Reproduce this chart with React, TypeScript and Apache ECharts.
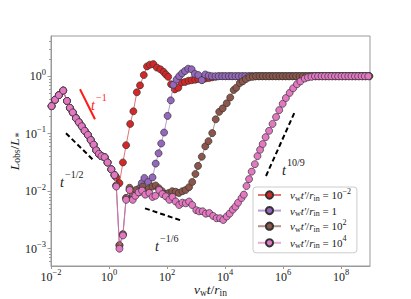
import React, { useEffect, useRef } from "react";
import * as echarts from "echarts";

// All pairs are [log10(v_w t / r_in), log10(L_obs / L_*)].
const earlyShared: number[][] = [
  [-1.98, -0.52], [-1.86, -0.41], [-1.73, -0.33], [-1.58, -0.25], [-1.45, -0.43],
  [-1.35, -0.55], [-1.25, -0.63], [-1.14, -0.73], [-1.04, -0.80], [-0.94, -0.87],
  [-0.84, -0.95], [-0.73, -1.02], [-0.63, -1.11], [-0.53, -1.19], [-0.44, -1.29],
  [-0.35, -1.35], [-0.26, -1.39], [-0.15, -1.41], [-0.05, -1.50], [0.08, -1.62],
  [0.19, -1.72],
];
const dipPink: number[][] = [[0.25, -1.92], [0.36, -3.0], [0.48, -2.77]];
const dipDark: number[][] = [[0.25, -1.9], [0.36, -2.94], [0.48, -2.75]];

const redTail: number[][] = [
  [0.25, -1.76], [0.36, -1.86], [0.48, -1.5], [0.59, -1.2], [0.73, -0.83], [0.84, -0.61],
  [0.96, -0.28], [1.07, -0.16], [1.2, 0.02], [1.31, 0.17], [1.41, 0.2], [1.53, 0.21],
  [1.65, 0.15], [1.77, 0.12], [1.88, 0.075], [1.96, 0.03], [2.04, -0.01], [2.14, -0.14],
  [2.27, -0.23], [2.39, -0.2], [2.5, -0.11], [2.62, -0.1], [2.74, -0.08], [2.85, -0.07],
  [2.97, -0.06], [3.08, -0.05], [3.22, -0.06], [3.33, -0.04], [3.45, -0.03], [3.56, -0.02],
  [3.68, -0.01], [3.79, 0], [3.91, 0], [4.02, 0], [4.14, 0], [4.25, 0], [4.37, 0], [4.48, 0],
  [4.6, 0], [4.71, 0], [4.83, 0], [4.94, 0], [5.06, 0], [5.17, 0], [5.29, 0], [5.4, 0],
  [5.52, 0], [5.63, 0], [5.75, 0], [5.86, 0], [5.98, 0], [6.09, 0], [6.21, 0], [6.32, 0],
  [6.44, 0], [6.55, 0], [6.67, 0], [6.78, 0], [6.9, 0], [7.01, 0], [7.13, 0], [7.24, 0],
  [7.36, 0], [7.47, 0], [7.59, 0], [7.7, 0], [7.82, 0], [7.93, 0], [8.05, 0], [8.16, 0],
  [8.28, 0], [8.39, 0], [8.51, 0], [8.62, 0], [8.74, 0], [8.85, 0], [8.97, 0],
];

const purpleTail: number[][] = [
  [0.59, -2.12], [0.71, -1.97], [0.82, -2.1], [0.93, -2.0], [1.04, -1.95], [1.13, -1.86],
  [1.22, -1.77], [1.35, -1.84], [1.5, -1.76], [1.61, -1.52], [1.71, -1.34], [1.8, -1.17],
  [1.9, -0.98], [2.02, -0.69], [2.13, -0.42], [2.22, -0.15], [2.33, -0.06], [2.42, 0.0],
  [2.52, 0.05], [2.62, 0.09], [2.73, 0.13], [2.85, 0.12], [2.96, 0.04], [3.08, 0.02],
  [3.2, -0.07], [3.32, 0.03], [3.44, 0.01], [3.55, 0], [3.67, 0], [3.78, 0], [3.9, 0],
  [4.01, 0], [4.13, 0], [4.24, 0], [4.36, 0], [4.47, 0], [4.59, 0], [4.7, 0], [4.82, 0],
  [4.93, 0], [5.05, 0], [5.16, 0], [5.28, 0], [5.39, 0], [5.51, 0], [5.62, 0], [5.74, 0],
  [5.85, 0], [5.97, 0], [6.08, 0], [6.2, 0], [6.31, 0], [6.43, 0], [6.54, 0], [6.66, 0],
  [6.77, 0], [6.89, 0], [7.0, 0], [7.12, 0], [7.23, 0], [7.35, 0], [7.46, 0], [7.58, 0],
  [7.69, 0], [7.81, 0], [7.92, 0], [8.04, 0], [8.15, 0], [8.27, 0], [8.38, 0], [8.5, 0],
  [8.61, 0], [8.73, 0], [8.84, 0], [8.96, 0],
];

const brownTail: number[][] = [
  [0.59, -2.12], [0.71, -1.94], [0.82, -2.06], [0.93, -1.98], [1.04, -2.02], [1.16, -1.92],
  [1.27, -2.0], [1.38, -1.95], [1.5, -1.92], [1.61, -1.9], [1.72, -1.95], [1.83, -2.0],
  [1.95, -2.05], [2.06, -2.03], [2.18, -2.0], [2.3, -2.01], [2.41, -2.03], [2.53, -2.0],
  [2.64, -1.98], [2.76, -1.93], [2.87, -1.84], [2.98, -1.7], [3.07, -1.56], [3.2, -1.4],
  [3.32, -1.22], [3.43, -1.13], [3.56, -0.99], [3.68, -0.75], [3.8, -0.62], [3.92, -0.56],
  [4.06, -0.47], [4.18, -0.37], [4.3, -0.24], [4.39, -0.2], [4.51, -0.12], [4.61, -0.09],
  [4.72, -0.05], [4.84, -0.02], [4.96, -0.01], [5.07, 0], [5.19, 0], [5.3, 0], [5.42, 0],
  [5.53, 0], [5.65, 0], [5.76, 0], [5.88, 0], [5.99, 0], [6.11, 0], [6.22, 0], [6.34, 0],
  [6.45, 0], [6.57, 0], [6.68, 0], [6.8, 0], [6.91, 0], [7.03, 0], [7.14, 0], [7.26, 0],
  [7.37, 0], [7.49, 0], [7.6, 0], [7.72, 0], [7.83, 0], [7.95, 0], [8.06, 0], [8.18, 0],
  [8.29, 0], [8.41, 0], [8.52, 0], [8.64, 0], [8.75, 0], [8.87, 0], [8.98, 0],
];

const pinkTail: number[][] = [
  [0.59, -2.15], [0.71, -1.98], [0.82, -2.15], [0.91, -2.08], [1.02, -2.02], [1.14, -1.99],
  [1.25, -2.06], [1.39, -2.03], [1.5, -2.1], [1.6, -2.08], [1.73, -1.98], [1.84, -2.05],
  [1.96, -2.09], [2.08, -2.15], [2.19, -2.1], [2.3, -2.18], [2.42, -2.24], [2.53, -2.2],
  [2.65, -2.21], [2.76, -2.18], [2.87, -2.24], [3.01, -2.33], [3.11, -2.35], [3.23, -2.35],
  [3.34, -2.39], [3.46, -2.38], [3.59, -2.43], [3.71, -2.47], [3.83, -2.47], [3.94, -2.5],
  [4.06, -2.44], [4.16, -2.39], [4.27, -2.32], [4.36, -2.27], [4.45, -2.2], [4.57, -2.12],
  [4.65, -2.06], [4.74, -1.91], [4.83, -1.79], [4.92, -1.66], [5.03, -1.53], [5.12, -1.39],
  [5.21, -1.28], [5.3, -1.18], [5.4, -1.06], [5.52, -0.95], [5.64, -0.83], [5.76, -0.71],
  [5.87, -0.59], [5.99, -0.48], [6.1, -0.38], [6.23, -0.29], [6.35, -0.21], [6.48, -0.14],
  [6.6, -0.09], [6.75, -0.04], [6.86, -0.02], [6.98, -0.01], [7.1, 0], [7.21, 0], [7.33, 0],
  [7.44, 0], [7.56, 0], [7.67, 0], [7.79, 0], [7.9, 0], [8.02, 0], [8.13, 0], [8.25, 0],
  [8.36, 0], [8.48, 0], [8.59, 0], [8.71, 0], [8.82, 0], [8.94, 0],
];

const seriesNames = ["t' = 1e-2", "t' = 1", "t' = 1e2", "t' = 1e4"];
const legendExponents = ["−2", "", "2", "4"];

const xTicks = [1e-2, 1, 1e2, 1e4, 1e6, 1e8];
const yTicks = [1e-3, 1e-2, 1e-1, 1];
const yMinorTicks = [
  6e-4, 7e-4, 8e-4, 9e-4, 2e-3, 3e-3, 4e-3, 5e-3, 6e-3, 7e-3, 8e-3, 9e-3,
  2e-2, 3e-2, 4e-2, 5e-2, 6e-2, 7e-2, 8e-2, 9e-2, 0.2, 0.3, 0.4, 0.5, 0.6, 0.7, 0.8, 0.9, 2, 3, 4,
];

// guide lines: [log10 t, log10 L] endpoints
const guideTm1: number[][] = [[-1.0, -0.228], [-0.483, -0.75]];
const guideTm12: number[][] = [[-1.483, -0.993], [-0.541, -1.458]];
const guideTm16: number[][] = [[1.241, -2.298], [2.507, -2.513]];
const guideT109: number[][] = [[5.414, -1.736], [6.397, -0.631]];

const FONT = "'Liberation Serif', 'DejaVu Serif', serif";
const INK = "#1a1a1a";
const SPINE = "#9a9a9a";
const COLORS = ["#d62728", "#9467bd", "#8c564b", "#e377c2"];

const toVals = (arr: number[][]) => arr.map(([a, b]) => [Math.pow(10, a), Math.pow(10, b)]);

const tickRich = {
  b: { fontFamily: FONT, fontSize: 12, color: INK, lineHeight: 13 },
  s: { fontFamily: FONT, fontSize: 8.5, color: INK, lineHeight: 13, padding: [0, 0, 9, 0] },
};
const expLabel = (v: number) => {
  const e = Math.round(Math.log10(v));
  return `{b|10}{s|${e < 0 ? "−" + -e : e}}`;
};

const nameRich = {
  i: { fontFamily: FONT, fontStyle: "italic", fontSize: 13.5, color: INK, lineHeight: 16 },
  n: { fontFamily: FONT, fontSize: 13.5, color: INK, lineHeight: 16 },
  sub: { fontFamily: FONT, fontSize: 9.5, color: INK, lineHeight: 16, padding: [6, 0, 0, 0] },
};

const legendRich = {
  i: { fontFamily: FONT, fontStyle: "italic", fontSize: 11, color: INK, lineHeight: 17 },
  n: { fontFamily: FONT, fontSize: 11, color: INK, lineHeight: 17 },
  sub: { fontFamily: FONT, fontSize: 8, color: INK, lineHeight: 17, padding: [6, 0, 0, 0] },
  sup: { fontFamily: FONT, fontSize: 8, color: INK, lineHeight: 17, padding: [0, 0, 8, 0] },
};

const annBase = (color: string) => ({ fontFamily: FONT, fontStyle: "italic", fontSize: 14, fill: color });
const annSup = (color: string) => ({ fontFamily: FONT, fontSize: 10, fill: color });

function buildOption() {
  const dataSets = [
    [...earlyShared, ...redTail],
    [...earlyShared, ...dipDark, ...purpleTail],
    [...earlyShared, ...dipDark, ...brownTail],
    [...earlyShared, ...dipPink, ...pinkTail],
  ];
  const guideLine = (g: number[][], color: string, dashed: boolean) => [
    {
      coord: [Math.pow(10, g[0][0]), Math.pow(10, g[0][1])],
      lineStyle: { color, width: 2, type: dashed ? [5, 3] : "solid", opacity: 1 },
    },
    { coord: [Math.pow(10, g[1][0]), Math.pow(10, g[1][1])] },
  ];
  const series: any[] = dataSets.map((d, k) => ({
    type: "line",
    name: seriesNames[k],
    data: toVals(d),
    symbol: "circle",
    symbolSize: 7,
    showSymbol: true,
    itemStyle: { color: COLORS[k], borderColor: "#333", borderWidth: 0.7 },
    lineStyle: { color: COLORS[k], width: 1, opacity: 0.65 },
    emphasis: { disabled: true },
    z: 2 + k,
    clip: true,
  }));
  series[3].markLine = {
    silent: true,
    symbol: ["none", "none"],
    label: { show: false },
    animation: false,
    data: [
      guideLine(guideTm1, "#ff1a1a", false),
      guideLine(guideTm12, "#000", true),
      guideLine(guideTm16, "#000", true),
      guideLine(guideT109, "#000", true),
    ],
  };

  const ann = (x: number, y: number, sup: string, color: string) => [
    { type: "text", x, y, z: 100, style: { text: "t", ...annBase(color), verticalAlign: "alphabetic" } },
    { type: "text", x: x + 5, y: y - 6, z: 100, style: { text: sup, ...annSup(color), verticalAlign: "alphabetic" } },
  ];

  return {
    animation: false,
    textStyle: { fontFamily: FONT },
    grid: {
      left: 51, top: 36, right: 41, bottom: 33,
      show: true, borderColor: SPINE, borderWidth: 1,
      containLabel: false, outerBoundsMode: "none",
    },
    xAxis: {
      type: "log",
      logBase: 10,
      min: 1e-2,
      max: 1e9,
      axisLine: { show: true, lineStyle: { color: SPINE } },
      axisTick: { show: true, customValues: xTicks, length: 3, lineStyle: { color: SPINE } },
      axisLabel: { customValues: xTicks, formatter: expLabel, rich: tickRich, margin: 4 },
      splitLine: { show: false },
      minorTick: { show: false },
      name: "{i|v}{sub|w}{i|t}{n|/}{i|r}{sub|in}",
      nameLocation: "middle",
      nameGap: 15.5,
      nameMoveOverlap: false,
      nameTextStyle: { rich: nameRich },
    },
    yAxis: [
      {
        type: "log",
        logBase: 10,
        min: 5e-4,
        max: 5,
        axisLine: { show: true, lineStyle: { color: SPINE } },
        axisTick: { show: true, customValues: yTicks, length: 3.5, lineStyle: { color: SPINE } },
        axisLabel: { customValues: yTicks, formatter: expLabel, rich: tickRich, margin: 5 },
        splitLine: { show: false },
        name: "{i|L}{sub|obs}{n|/}{i|L}{sub|∗}",
        nameLocation: "middle",
        nameRotate: 90,
        nameGap: 29,
        nameMoveOverlap: false,
        nameTextStyle: { rich: nameRich },
      },
      {
        type: "log",
        logBase: 10,
        min: 5e-4,
        max: 5,
        position: "left",
        axisLine: { show: false },
        axisTick: { show: true, customValues: yMinorTicks, length: 2, lineStyle: { color: SPINE } },
        axisLabel: { show: false },
        splitLine: { show: false },
      },
    ],
    legend: {
      orient: "vertical",
      left: 253,
      top: 187,
      padding: [0, 6, 2, 4],
      backgroundColor: "#fff",
      borderColor: "#cccccc",
      borderWidth: 1,
      borderRadius: 3,
      itemWidth: 23,
      itemHeight: 9,
      itemGap: 0.6,
      selectedMode: false,
      data: seriesNames,
      lineStyle: { width: 2 },
      textStyle: { rich: legendRich, padding: [0, 0, 0, 4] },
      formatter: (name: string) => {
        const k = seriesNames.indexOf(name);
        const e = legendExponents[k];
        const tail = e === "" ? "{n| = 1}" : `{n| = 10}{sup|${e}}`;
        return `{i|v}{sub|w}{i|t′}{n|/}{i|r}{sub|in}${tail}`;
      },
    },
    graphic: [
      ...ann(91, 98, "−1", "#ff1a1a"),
      ...ann(60, 175, "−1/2", INK),
      ...ann(155, 239, "−1/6", INK),
      ...ann(282, 163, "10/9", INK),
    ],
    series,
  };
}

export default function App() {
  const ref = useRef<HTMLDivElement>(null);
  useEffect(() => {
    if (!ref.current) return;
    const chart = echarts.init(ref.current, null, { renderer: "svg" });
    chart.setOption(buildOption() as any);
    return () => chart.dispose();
  }, []);
  return (
    <div
      ref={ref}
      style={{ position: "fixed", left: 0, top: 0, width: 411, height: 299, background: "#fff" }}
    />
  );
}
